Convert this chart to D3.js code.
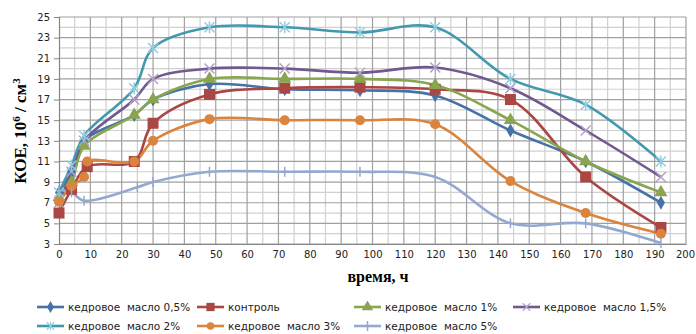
<!DOCTYPE html>
<html>
<head>
<meta charset="utf-8">
<script src="https://cdn.jsdelivr.net/npm/d3@7"></script>
<style>
	body { margin: 0; background: #fff; }
	svg { display: block; }
</style>
</head>
<body>
<svg id="chart" width="696" height="334"></svg>
<script>
;(() => {
	'use strict';

	// hours of measurement (some series were measured at slightly different times)
	const hoursMain = [0, 4, 8, 24, 30, 48, 72, 96, 120, 144, 168, 192],
		hoursControl = [0, 4, 9, 24, 30, 48, 72, 96, 120, 144, 168, 192],
		hours3 = [0, 4, 8, 9, 24, 30, 48, 72, 96, 120, 144, 168, 192],
		hours5 = [0, 4, 8, 25, 30, 48, 72, 96, 120, 144, 168, 192];

	// КОЕ, 10^6 / см3
	const oil05 = [8, 10, 13, 15.5, 17, 18.5, 18, 17.9, 17.4, 14, 11, 7],
		control = [6, 8.3, 10.5, 11, 14.7, 17.5, 18.1, 18.2, 18, 17, 9.5, 4.6],
		oil1 = [7.5, 9, 12.5, 15.5, 17, 19, 19, 19, 18.4, 15, 11, 8],
		oil15 = [7, 10, 13, 17, 19, 20, 20, 19.6, 20.1, 18.1, 14, 9.5],
		oil2 = [8, 10.6, 13.5, 18.1, 22, 24, 24, 23.5, 24, 19, 16.5, 11],
		oil3 = [7.1, 8.6, 9.5, 11, 11, 13, 15.1, 15, 15, 14.6, 9.1, 6, 4],
		oil5 = [8.2, 8, 7.2, 8.5, 9, 10, 10, 10, 9.5, 5, 5, 3.1];

	const xTicks = d3.range(0, 201, 10),
		yTicks = d3.range(3, 26, 2);

	const series = [
		{ name: 'кедровое  масло 0,5%', x: hoursMain, y: oil05, color: '#4572A7', mark: 'diamond' },
		{ name: 'контроль', x: hoursControl, y: control, color: '#AA4643', mark: 'square' },
		{ name: 'кедровое  масло 1%', x: hoursMain, y: oil1, color: '#89A54E', mark: 'triangle' },
		{ name: 'кедровое  масло 1,5%', x: hoursMain, y: oil15, color: '#71588F', mark: 'cross', light: '#B3A2C7' },
		{ name: 'кедровое  масло 2%', x: hoursMain, y: oil2, color: '#4198AF', mark: 'star', light: '#93CDDD' },
		{ name: 'кедровое  масло 3%', x: hours3, y: oil3, color: '#DB843D', mark: 'circle' },
		{ name: 'кедровое  масло 5%', x: hours5, y: oil5, color: '#93A9CF', mark: 'dash' }
	];

	const plot = { left: 59, right: 686, top: 17, bottom: 244 };

	const svg = d3.select('#chart'),
		xScale = d3.scaleLinear().domain([0, 200]).range([plot.left, plot.right]),
		yScale = d3.scaleLinear().domain([3, 25]).range([plot.bottom, plot.top]);

	// grid: minor lines every 5 h / every 1 unit, major on the ticks
	const grid = svg.append('g');
	grid.selectAll('.vminor')
		.data(d3.range(5, 200, 10))
		.enter().append('line')
		.attr('x1', d => xScale(d)).attr('x2', d => xScale(d))
		.attr('y1', plot.top).attr('y2', plot.bottom)
		.attr('stroke', '#d0d0d0').attr('stroke-width', 1.2);
	grid.selectAll('.hminor')
		.data(d3.range(4, 25, 2))
		.enter().append('line')
		.attr('x1', plot.left).attr('x2', plot.right)
		.attr('y1', d => yScale(d)).attr('y2', d => yScale(d))
		.attr('stroke', '#d0d0d0').attr('stroke-width', 1.2);
	grid.selectAll('.vmajor')
		.data(xTicks.slice(1))
		.enter().append('line')
		.attr('x1', d => xScale(d)).attr('x2', d => xScale(d))
		.attr('y1', plot.top).attr('y2', plot.bottom)
		.attr('stroke', '#a0a0a0').attr('stroke-width', 1.2);
	grid.selectAll('.hmajor')
		.data(yTicks)
		.enter().append('line')
		.attr('x1', plot.left).attr('x2', plot.right)
		.attr('y1', d => yScale(d)).attr('y2', d => yScale(d))
		.attr('stroke', '#a0a0a0').attr('stroke-width', 1.2);

	// axes
	const xAxis = d3.axisBottom(xScale).tickValues(xTicks).tickSize(0).tickPadding(7),
		yAxis = d3.axisLeft(yScale).tickValues(yTicks).tickSize(5).tickPadding(4);

	const gx = svg.append('g')
		.attr('transform', `translate(0,${plot.bottom})`)
		.call(xAxis);
	const gy = svg.append('g')
		.attr('transform', `translate(${plot.left},0)`)
		.call(yAxis);
	[gx, gy].forEach(g => {
		g.select('.domain').attr('stroke', '#868686').attr('stroke-width', 1.2);
		g.selectAll('.tick line').attr('stroke', '#868686');
		g.selectAll('text')
			.attr('font-family', 'DejaVu Sans, Verdana, sans-serif')
			.attr('font-size', 10)
			.attr('fill', '#222');
	});
	// last x label sits against the right edge
	gx.selectAll('.tick text').filter(d => d === 200).attr('dx', -1);

	// axis titles
	svg.append('text')
		.attr('x', 378).attr('y', 282)
		.attr('text-anchor', 'middle')
		.attr('font-family', 'Liberation Serif, Times New Roman, serif')
		.attr('font-weight', 'bold').attr('font-size', 16)
		.text('время, ч');

	const yTitle = svg.append('text')
		.attr('transform', 'translate(26,131) rotate(-90)')
		.attr('text-anchor', 'middle')
		.attr('font-family', 'Liberation Serif, Times New Roman, serif')
		.attr('font-weight', 'bold').attr('font-size', 17);
	yTitle.append('tspan').text('КОЕ, 10');
	yTitle.append('tspan').attr('font-size', 11).attr('dy', -6).text('6');
	yTitle.append('tspan').attr('dy', 6).text(' / см');
	yTitle.append('tspan').attr('font-size', 11).attr('dy', -6).text('3');

	// marker shapes
	const drawMarker = function(g, d, size) {
		const s = size || 1;
		switch (d.mark) {
		case 'diamond':
			g.append('path').attr('d', d3.symbol(d3.symbolDiamond, 55 * s)())
				.attr('fill', d.color);
			break;
		case 'square':
			g.append('rect').attr('x', -5.5 * s).attr('y', -5.5 * s)
				.attr('width', 11 * s).attr('height', 11 * s).attr('fill', d.color);
			break;
		case 'triangle':
			g.append('path').attr('d', d3.symbol(d3.symbolTriangle, 75 * s)())
				.attr('fill', d.color);
			break;
		case 'circle':
			g.append('circle').attr('r', 5 * s).attr('fill', d.color);
			break;
		case 'cross':
			g.append('path').attr('d', `M-5,-5L5,5M-5,5L5,-5`)
				.attr('transform', `scale(${s})`)
				.attr('stroke', d.light).attr('stroke-width', 1.5).attr('fill', 'none');
			break;
		case 'star':
			g.append('path').attr('d', `M-5,-5L5,5M-5,5L5,-5M0,-6L0,6`)
				.attr('transform', `scale(${s})`)
				.attr('stroke', d.light).attr('stroke-width', 1.5).attr('fill', 'none');
			break;
		case 'dash':
			g.append('path').attr('d', 'M0,-5L0,5')
				.attr('stroke', d.color).attr('stroke-width', 1.5);
			break;
		}
	};

	// lines
	const line = d3.line()
		.x(p => xScale(p[0]))
		.y(p => yScale(p[1]))
		.curve(d3.curveCatmullRom.alpha(0.5));

	const seriesG = svg.append('g');
	series.forEach(s => {
		const pts = s.x.map((h, i) => [h, s.y[i]]);
		seriesG.append('path')
			.attr('d', line(pts))
			.attr('fill', 'none')
			.attr('stroke', s.color)
			.attr('stroke-width', 2.6);
	});
	series.forEach(s => {
		s.x.forEach((h, i) => {
			const g = seriesG.append('g')
				.attr('transform', `translate(${xScale(h)},${yScale(s.y[i])})`);
			drawMarker(g, s);
		});
	});

	// legend
	const legendPos = [
		[37, 307], [197, 307], [354, 307], [513, 307],
		[37, 326], [197, 326], [354, 326]
	];
	const legend = svg.append('g');
	series.forEach((s, i) => {
		const g = legend.append('g')
			.attr('transform', `translate(${legendPos[i][0]},${legendPos[i][1]})`);
		g.append('line').attr('x1', 0).attr('x2', 27)
			.attr('stroke', s.color).attr('stroke-width', 2.6);
		const m = g.append('g').attr('transform', 'translate(13.5,0)');
		drawMarker(m, s, 0.75);
		g.append('text')
			.attr('x', 31).attr('y', 4)
			.attr('font-family', 'DejaVu Sans, Verdana, sans-serif')
			.attr('font-size', 10.5)
			.attr('fill', '#222')
			.attr('xml:space', 'preserve')
			.style('white-space', 'pre')
			.text(s.name);
	});

})();
</script>
</body>
</html>
